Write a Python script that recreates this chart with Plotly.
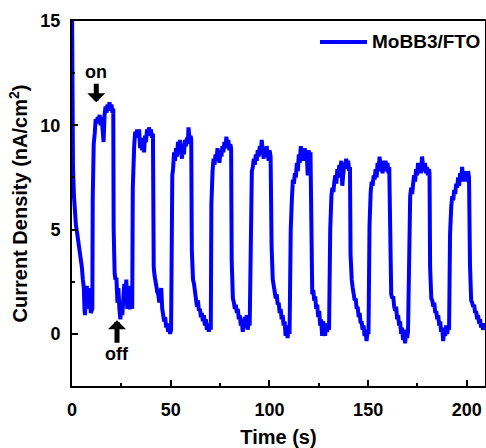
import plotly.graph_objects as go

# ---- data (time in s, current density in nA/cm^2) ----
time_s = [
    # initial decay (dark)
    0.0, 0.2, 0.5, 1.0, 1.5, 2.0, 2.5, 3.0, 3.5, 4.0, 4.5, 5.0, 5.5, 6.0, 6.3, 6.6, 7.0, 7.5, 8.0, 8.5, 9.0, 9.5, 10.0, 10.3,
    # on 1
    10.5, 10.7, 11.0, 11.5, 12.0, 12.5, 13.0, 13.5, 14.0, 14.5, 15.0, 15.5, 16.0, 16.5, 17.0, 17.5, 18.0, 18.5, 19.0, 19.5, 20.0, 20.5, 20.9,
    # off 1
    21.1, 21.3, 21.6, 22.0, 22.5, 23.0, 23.5, 24.0, 24.5, 25.0, 25.5, 26.0, 26.5, 27.0, 27.5, 28.0, 28.5, 29.0, 29.5, 30.0, 30.5,
    # on 2
    30.8, 31.0, 31.5, 32.0, 32.5, 33.0, 33.5, 34.0, 34.5, 35.0, 35.5, 36.0, 36.5, 37.0, 37.5, 38.0, 38.5, 39.0, 39.5, 40.0, 40.5, 41.0,
    # off 2
    41.2, 41.4, 41.8, 42.2, 42.7, 43.2, 43.7, 44.2, 44.7, 45.2, 45.7, 46.2, 46.7, 47.2, 47.7, 48.2, 48.7, 49.2, 49.7, 50.2,
    # on 3
    50.6, 50.8, 51.2, 51.7, 52.2, 52.7, 53.2, 53.7, 54.2, 54.7, 55.2, 55.7, 56.2, 56.7, 57.2, 57.7, 58.2, 58.7, 59.0, 59.3, 59.7, 60.1, 60.4,
    # off 3
    60.7, 60.9, 61.3, 61.8, 62.3, 62.8, 63.3, 63.8, 64.3, 64.8, 65.3, 65.8, 66.3, 66.8, 67.3, 67.8, 68.3, 68.8, 69.3, 69.8, 70.3,
    # on 4
    70.6, 70.8, 71.2, 71.7, 72.2, 72.7, 73.2, 73.7, 74.2, 74.7, 75.2, 75.7, 76.2, 76.7, 77.2, 77.7, 78.2, 78.7, 79.2, 79.7, 80.2, 80.6,
    # off 4
    80.9, 81.1, 81.5, 82.0, 82.5, 83.0, 83.5, 84.0, 84.5, 85.0, 85.5, 86.0, 86.5, 87.0, 87.5, 88.0, 88.5, 89.0, 89.5, 90.0,
    # on 5
    90.5, 90.7, 91.1, 91.6, 92.1, 92.6, 93.1, 93.6, 94.1, 94.6, 95.1, 95.6, 96.1, 96.6, 97.1, 97.6, 98.1, 98.6, 99.1, 99.6, 100.1, 100.6,
    # off 5
    101.1, 101.3, 101.7, 102.2, 102.7, 103.2, 103.7, 104.2, 104.7, 105.2, 105.7, 106.2, 106.7, 107.2, 107.7, 108.2, 108.7, 109.2, 109.7, 110.2,
    # on 6
    110.8, 111.0, 111.4, 111.9, 112.4, 112.9, 113.4, 113.9, 114.4, 114.9, 115.4, 115.9, 116.4, 116.9, 117.4, 117.9, 118.4, 118.9, 119.4, 119.9, 120.4, 120.8,
    # off 6
    121.1, 121.3, 121.7, 122.2, 122.7, 123.2, 123.7, 124.2, 124.7, 125.2, 125.7, 126.2, 126.7, 127.2, 127.7, 128.2, 128.7, 129.2, 129.7, 130.2,
    # on 7
    130.8, 131.0, 131.4, 131.9, 132.4, 132.9, 133.4, 133.9, 134.4, 134.9, 135.4, 135.9, 136.4, 136.9, 137.4, 137.9, 138.4, 138.9, 139.4, 139.9, 140.4, 140.8,
    # off 7
    141.1, 141.3, 141.7, 142.2, 142.7, 143.2, 143.7, 144.2, 144.7, 145.2, 145.7, 146.2, 146.7, 147.2, 147.7, 148.2, 148.7, 149.2, 149.7, 150.2,
    # on 8
    150.7, 150.9, 151.3, 151.8, 152.3, 152.8, 153.3, 153.8, 154.3, 154.8, 155.3, 155.8, 156.3, 156.8, 157.3, 157.8, 158.3, 158.8, 159.3, 159.8, 160.3, 160.7,
    # off 8
    161.1, 161.3, 161.7, 162.2, 162.7, 163.2, 163.7, 164.2, 164.7, 165.2, 165.7, 166.2, 166.7, 167.2, 167.7, 168.2, 168.7, 169.2, 169.7, 170.2,
    # on 9
    170.7, 170.9, 171.3, 171.8, 172.3, 172.8, 173.3, 173.8, 174.3, 174.8, 175.3, 175.8, 176.3, 176.8, 177.3, 177.8, 178.3, 178.8, 179.3, 179.8, 180.3, 180.8, 181.1,
    # off 9
    181.4, 181.6, 182.0, 182.5, 183.0, 183.5, 184.0, 184.5, 185.0, 185.5, 186.0, 186.5, 187.0, 187.5, 188.0, 188.5, 189.0, 189.5, 190.0, 190.5, 191.0,
    # on 10
    191.5, 191.7, 192.1, 192.6, 193.1, 193.6, 194.1, 194.6, 195.1, 195.6, 196.1, 196.6, 197.1, 197.6, 198.1, 198.6, 199.1, 199.6, 200.1, 200.6, 201.1,
    # off 10
    201.6, 201.8, 202.2, 202.7, 203.2, 203.7, 204.2, 204.7, 205.2, 205.7, 206.2, 206.7, 207.2, 207.7, 208.2, 208.7, 209.2, 209.7, 210.0,
]

current_density = [
    16.0, 12.0, 8.0, 6.6, 5.7, 5.2, 4.9, 4.6, 4.2, 4.0, 3.6, 3.2, 2.6, 2.2, 1.2, 0.9, 2.0, 2.3, 1.2, 1.9, 2.2, 1.0, 1.1, 1.2,
    6.5, 8.5, 9.1, 9.6, 10.3, 10.1, 10.4, 10.2, 10.5, 10.0, 10.4, 9.8, 9.2, 10.5, 10.9, 10.6, 11.0, 10.8, 11.1, 10.7, 11.0, 10.6, 10.8,
    5.0, 3.4, 2.9, 2.6, 2.7, 1.5, 2.2, 1.2, 0.7, 1.4, 0.9, 1.7, 2.4, 1.4, 2.6, 1.2, 2.3, 1.3, 1.2, 1.5, 1.2,
    7.0, 8.6, 9.0, 9.7, 9.4, 9.8, 9.5, 9.8, 8.9, 9.4, 8.8, 9.3, 8.7, 9.5, 9.2, 9.8, 9.5, 9.9, 9.6, 9.8, 9.4, 9.6,
    4.5, 3.2, 2.8, 2.4, 2.3, 2.0, 1.9, 1.5, 1.8, 2.2, 1.2, 1.0, 0.6, 0.8, 0.3, 0.5, 0.1, 0.3, 0.0, 0.2,
    6.5, 7.6, 7.9, 8.7, 8.3, 8.9, 8.5, 9.2, 8.7, 9.3, 8.8, 8.4, 9.0, 8.6, 9.3, 9.0, 9.4, 9.1, 9.9, 9.4, 9.2, 9.5, 9.3,
    4.0, 2.9, 2.6, 2.4, 2.0, 1.8, 1.3, 1.6, 1.1, 1.2, 0.8, 1.0, 0.6, 0.9, 0.4, 0.7, 0.2, 0.5, 0.1, 0.4, 0.2,
    6.2, 7.5, 7.8, 8.4, 8.1, 8.6, 8.3, 8.9, 8.5, 8.2, 8.8, 8.5, 9.0, 8.7, 9.2, 8.9, 9.45, 9.0, 9.3, 8.8, 9.1, 8.9,
    3.5, 2.2, 1.7, 1.5, 1.2, 1.4, 1.0, 1.2, 0.7, 0.9, 0.4, 0.6, 0.1, 0.5, 0.8, 0.3, 0.9, 0.2, 0.6, 0.4,
    6.0, 7.3, 7.8, 8.0, 8.4, 8.1, 8.6, 8.3, 8.8, 8.5, 9.0, 8.6, 9.3, 8.8, 8.4, 8.9, 8.6, 9.0, 8.7, 8.3, 8.8, 8.5,
    4.2, 2.9, 2.6, 2.3, 2.1, 1.7, 1.9, 1.4, 1.5, 1.0, 1.2, 0.7, 0.9, 0.4, 0.6, -0.1, 0.4, -0.2, 0.3, 0.0,
    5.0, 5.9, 6.5, 7.4, 7.2, 7.7, 7.5, 8.2, 7.8, 8.6, 8.2, 9.0, 8.5, 8.8, 8.3, 8.9, 8.4, 8.7, 7.6, 8.8, 8.5, 8.7,
    3.6, 2.4, 1.9, 2.1, 1.6, 1.8, 1.2, 1.4, 0.8, 1.1, 0.4, 0.7, -0.1, 0.6, 0.2, -0.1, 0.5, 0.1, 0.3, 0.2,
    5.0, 6.4, 6.6, 7.0, 6.8, 7.3, 7.6, 7.2, 7.9, 7.5, 8.1, 7.7, 8.3, 7.1, 7.6, 8.2, 8.0, 8.4, 7.9, 8.3, 7.8, 8.0,
    3.8, 2.8, 2.6, 2.2, 1.9, 1.6, 1.7, 1.2, 1.3, 0.8, 1.0, 0.5, 0.6, 0.2, 0.4, -0.1, 0.2, -0.35, 0.1, 0.0,
    5.2, 6.5, 6.8, 7.3, 7.1, 7.6, 7.4, 7.9, 7.5, 8.2, 7.8, 8.5, 8.0, 8.3, 7.7, 8.1, 7.8, 8.3, 7.9, 8.2, 7.7, 8.0,
    3.5, 2.4, 1.9, 1.7, 1.8, 1.3, 1.1, 1.3, 0.7, 0.9, 0.4, 0.6, 0.0, 0.3, -0.3, 0.2, -0.45, 0.0, -0.2, 0.1,
    5.0, 6.3, 6.6, 7.0, 6.7, 7.2, 7.6, 7.3, 7.9, 7.6, 8.2, 7.8, 8.0, 7.7, 8.5, 8.1, 7.8, 8.2, 7.7, 8.0, 7.6, 7.9, 7.7,
    3.2, 2.2, 1.7, 1.6, 1.3, 1.5, 1.0, 1.1, 0.7, 0.9, 0.4, 0.6, 0.1, 0.3, -0.35, 0.2, -0.1, 0.4, 0.0, 0.3, 0.2,
    4.8, 5.5, 6.1, 6.6, 6.4, 6.9, 6.7, 7.2, 7.0, 7.5, 7.1, 7.7, 7.3, 8.0, 7.5, 7.8, 7.3, 7.7, 7.4, 7.8, 7.5,
    3.3, 2.2, 1.6, 1.5, 1.3, 1.4, 1.0, 1.1, 0.7, 0.9, 0.5, 0.7, 0.3, 0.5, 0.2, 0.4, 0.3, 0.5, 0.4,
]

series_name = "MoBB3/FTO"
x_tick_vals = [0, 50, 100, 150, 200]
y_tick_vals = [0, 5, 10, 15]

FONT = "Liberation Sans, Arial, sans-serif"
BLUE = "rgb(0,0,255)"

fig = go.Figure()
fig.add_trace(go.Scatter(
    x=time_s, y=current_density, mode="lines", name=series_name,
    line=dict(color=BLUE, width=4), showlegend=False,
))

axis_common = dict(
    showline=True, linecolor="black", linewidth=2, mirror=True,
    ticks="inside", ticklen=6, tickwidth=2, tickcolor="black",
    showgrid=False, zeroline=False, automargin=False,
    tickfont=dict(family=FONT, size=18, color="black", weight="bold"),
)

fig.update_xaxes(
    range=[0, 209.2], tickvals=x_tick_vals,
    minor=dict(dtick=25, tick0=0, ticks="inside", ticklen=3, tickwidth=2, tickcolor="black"),
    ticklabelstandoff=6,
    title=dict(text="Time (s)", font=dict(family=FONT, size=20, color="black", weight="bold"), standoff=12),
    **axis_common,
)
fig.update_yaxes(
    range=[-2.5, 15], tickvals=y_tick_vals,
    minor=dict(dtick=2.5, tick0=0, ticks="inside", ticklen=3, tickwidth=2, tickcolor="black"),
    ticklabelstandoff=6,
    title=dict(text="Current Density (nA/cm<sup>2</sup>)", font=dict(family=FONT, size=20, color="black", weight="bold"), standoff=7),
    **axis_common,
)

# "on" / "off" labels with block arrows (text sits at the arrow tail)
fig.add_annotation(x=12.3, y=11.1, ax=0, ay=-30, text="on", showarrow=True,
                   arrowhead=1, arrowwidth=5, arrowsize=0.6, arrowcolor="black",
                   font=dict(family=FONT, size=18, color="black", weight="bold"))
fig.add_annotation(x=22.8, y=0.65, ax=0, ay=34, text="off", showarrow=True,
                   arrowhead=1, arrowwidth=5, arrowsize=0.6, arrowcolor="black",
                   font=dict(family=FONT, size=18, color="black", weight="bold"))

# legend drawn as a line sample plus its label, in paper coordinates
fig.add_shape(type="line", xref="paper", yref="paper",
              x0=0.6005, x1=0.7143, y0=0.9425, y1=0.9425,
              line=dict(color=BLUE, width=4))
fig.add_annotation(xref="paper", yref="paper", x=0.722, y=0.9425,
                   xanchor="left", yanchor="middle", text=series_name, showarrow=False,
                   font=dict(family=FONT, size=19, color="black", weight="bold"))

fig.update_layout(
    width=486, height=448,
    margin=dict(l=72, r=1, t=21, b=62),
    paper_bgcolor="white", plot_bgcolor="white",
    showlegend=False,
)

fig.write_html("out.html", config={"displayModeBar": False},
               post_script="document.body.style.margin='0';document.body.style.overflow='hidden';")
